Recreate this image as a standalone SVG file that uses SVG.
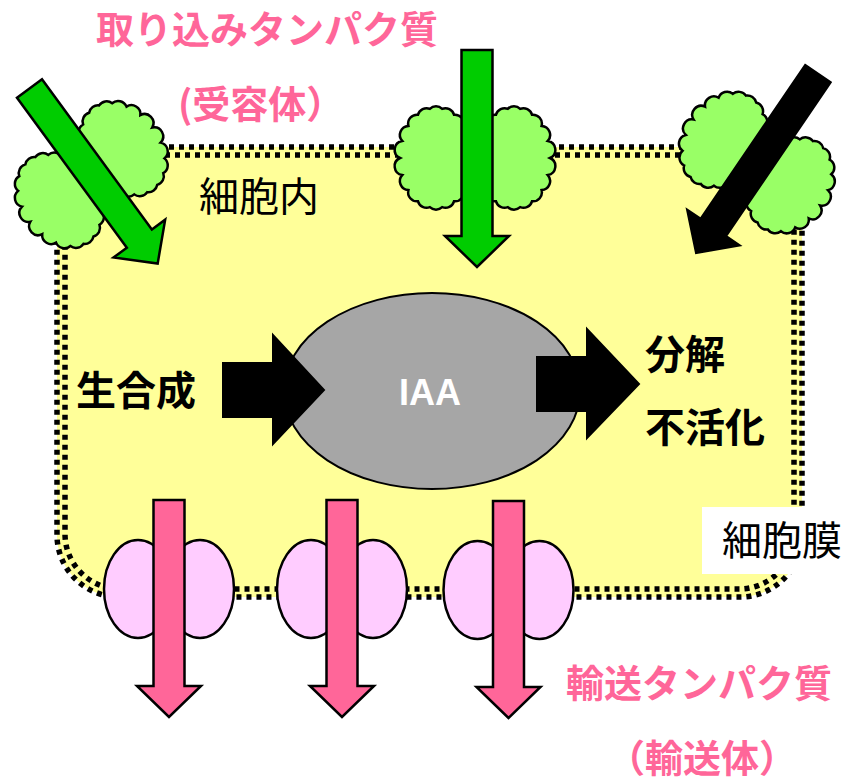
<svg xmlns="http://www.w3.org/2000/svg" width="851" height="782" viewBox="0 0 851 782">
  <style>
    .jp { font-family: "Noto Sans CJK JP", "Noto Sans", sans-serif; }
    .pink { fill: #FF6699; font-weight: bold; font-size: 38px; }
    .lbl { fill: #000; font-size: 40px; }
    .lblb { fill: #000; font-size: 40px; font-weight: bold; }
    .memb { fill: none; stroke: #000; stroke-width: 5.5; stroke-dasharray: 5 5; }
    .lobe { fill: #99FF66; stroke: #000; stroke-width: 2.5; }
    .garrow { fill: #00CC00; stroke: #000; stroke-width: 2.5; stroke-linejoin: miter; }
    .karrow { fill: #000; stroke: #000; stroke-width: 2; }
    .parrow { fill: #FF6699; stroke: #000; stroke-width: 2.5; }
    .pore { fill: #FFCCFF; stroke: #000; stroke-width: 2.5; }
  </style>
  <defs>
    <!-- block arrow pointing along +y, tail centred at origin -->
    <polygon id="arrow" points="-15.5,0 15.5,0 15.5,186 32,186 0,217 -32,186 -15.5,186"/>
    <!-- scalloped lobe used for the receptor clouds -->
    <path id="lobe" d="M36,0 A9,9 0 0 1 33.8,17.1 A9,9 0 0 1 27.6,32.1 A9,9 0 0 1 18,43.3 A9,9 0 0 1 6.2,49.2 A9,9 0 0 1 -6.2,49.2 A9,9 0 0 1 -18,43.3 A9,9 0 0 1 -27.6,32.1 A9,9 0 0 1 -33.8,17.1 A9,9 0 0 1 -36,0 A9,9 0 0 1 -33.8,-17.1 A9,9 0 0 1 -27.6,-32.1 A9,9 0 0 1 -18,-43.3 A9,9 0 0 1 -6.2,-49.2 A9,9 0 0 1 6.2,-49.2 A9,9 0 0 1 18,-43.3 A9,9 0 0 1 27.6,-32.1 A9,9 0 0 1 33.8,-17.1 A9,9 0 0 1 36,0 Z"/>
  </defs>

  <rect width="851" height="782" fill="#fff"/>

  <!-- cell interior and double dotted membrane -->
  <g id="cell">
    <rect x="57" y="147" width="745" height="450" rx="62" fill="#FFFF99"/>
    <rect class="memb" x="57" y="147" width="745" height="450" rx="62"/>
    <rect class="memb" x="65" y="155" width="729" height="434" rx="55" stroke-dashoffset="5"/>
  </g>

  <g id="membrane-label">
    <rect x="702" y="507" width="149" height="67" fill="#fff"/>
    <text class="jp lbl" x="722" y="555">細胞膜</text>
  </g>

  <g id="cytoplasm-label">
    <text class="jp lbl" x="199" y="211">細胞内</text>
  </g>

  <!-- IAA pool -->
  <g id="iaa">
    <ellipse cx="432" cy="391" rx="148" ry="98" fill="#A6A6A6" stroke="#000" stroke-width="2"/>
    <text x="430" y="405" text-anchor="middle" font-family="Liberation Sans, Arial, sans-serif" font-weight="bold" font-size="36" fill="#fff">IAA</text>
  </g>

  <g id="synthesis">
    <text class="jp lblb" x="76" y="405">生合成</text>
  </g>

  <g id="degradation">
    <text class="jp lblb" x="645" y="369">分解</text>
    <text class="jp lblb" x="645" y="442">不活化</text>
  </g>

  <!-- connectors -->
  <g id="connectors">
    <polygon class="karrow" points="223,363 273,363 273,335 324,390 273,444 273,417 223,417"/>
    <polygon class="karrow" points="537,357 587,357 587,329 639,384 587,438 587,411 537,411"/>
  </g>

  <!-- uptake receptors -->
  <g id="receptor-left" transform="translate(29.5,88.5) rotate(-36.2)">
    <use href="#lobe" class="lobe" x="40" y="104"/>
    <use href="#lobe" class="lobe" x="-42" y="108"/>
    <use href="#arrow" class="garrow"/>
  </g>
  <g id="receptor-mid" transform="translate(477,50)">
    <use href="#lobe" class="lobe" x="-41" y="108"/>
    <use href="#lobe" class="lobe" x="37" y="108"/>
    <use href="#arrow" class="garrow"/>
  </g>
  <g id="receptor-right" transform="translate(818,73.5) rotate(34.2)">
    <use href="#lobe" class="lobe" x="-41" y="108"/>
    <use href="#lobe" class="lobe" x="40" y="108"/>
    <use href="#arrow" class="karrow"/>
  </g>

  <!-- efflux transporters -->
  <g id="transporter-1" transform="translate(169,500)">
    <ellipse class="pore" cx="-31" cy="89" rx="34" ry="49"/>
    <ellipse class="pore" cx="31" cy="89" rx="34" ry="49"/>
    <use href="#arrow" class="parrow"/>
  </g>
  <g id="transporter-2" transform="translate(342,500)">
    <ellipse class="pore" cx="-31" cy="89" rx="34" ry="49"/>
    <ellipse class="pore" cx="31" cy="89" rx="34" ry="49"/>
    <use href="#arrow" class="parrow"/>
  </g>
  <g id="transporter-3" transform="translate(508.5,501)">
    <ellipse class="pore" cx="-31" cy="89" rx="34" ry="49"/>
    <ellipse class="pore" cx="31" cy="89" rx="34" ry="49"/>
    <use href="#arrow" class="parrow"/>
  </g>

  <g id="uptake-label">
    <text class="jp pink" x="96" y="43">取り込みタンパク質</text>
    <text class="jp pink" x="178" y="118">(受容体）</text>
  </g>
  <g id="efflux-label">
    <text class="jp pink" x="699" y="697" text-anchor="middle">輸送タンパク質</text>
    <text class="jp pink" x="702" y="772" text-anchor="middle">（輸送体）</text>
  </g>
</svg>
